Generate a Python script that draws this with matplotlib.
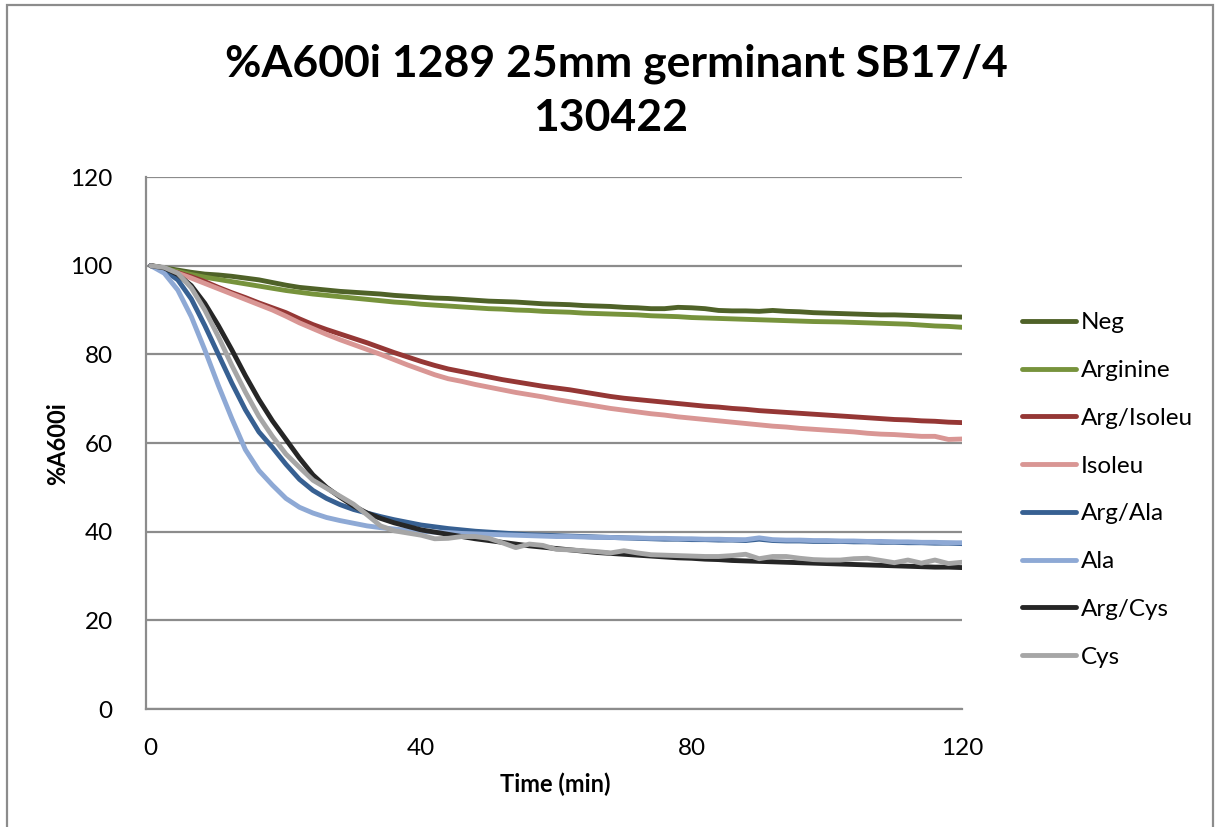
import numpy as np
import matplotlib
matplotlib.use("Agg")
import matplotlib.pyplot as plt
from matplotlib.patches import Rectangle

plt.rcParams['font.family'] = ['Lato', 'DejaVu Sans']

# Sampling times (min)
time_min = list(range(0, 121, 2))

neg = [100, 99.5, 99.0, 98.5, 98.1, 97.9, 97.6, 97.2, 96.8, 96.2, 95.6,
       95.1, 94.8, 94.5, 94.2, 94.0, 93.8, 93.6, 93.3, 93.1, 92.9,
       92.7, 92.6, 92.4, 92.2, 92.0, 91.9, 91.8, 91.6, 91.4, 91.3,
       91.2, 91.0, 90.9, 90.8, 90.6, 90.5, 90.3, 90.3, 90.6, 90.5,
       90.3, 89.9, 89.8, 89.8, 89.7, 89.9, 89.7, 89.6, 89.4, 89.3,
       89.2, 89.1, 89.0, 88.9, 88.9, 88.8, 88.7, 88.6, 88.5, 88.4]

arginine = [100, 99.3, 98.7, 98.0, 97.4, 96.9, 96.4, 95.9, 95.4, 94.9, 94.4,
            94.0, 93.6, 93.3, 93.0, 92.7, 92.4, 92.1, 91.8, 91.6, 91.3,
            91.1, 90.9, 90.7, 90.5, 90.3, 90.2, 90.0, 89.9, 89.7, 89.6,
            89.5, 89.3, 89.2, 89.1, 89.0, 88.9, 88.7, 88.6, 88.5, 88.3,
            88.2, 88.1, 88.0, 87.9, 87.8, 87.7, 87.6, 87.5, 87.4, 87.35,
            87.3, 87.2, 87.1, 87.0, 86.9, 86.8, 86.6, 86.4, 86.3, 86.1]

arg_isoleu = [100, 99.2, 98.4, 97.5, 96.4, 95.1, 93.9, 92.8, 91.6, 90.5, 89.4,
              88.0, 86.7, 85.6, 84.6, 83.6, 82.6, 81.5, 80.4, 79.4, 78.4,
              77.5, 76.7, 76.1, 75.5, 74.9, 74.3, 73.8, 73.3, 72.8, 72.4,
              72.0, 71.5, 71.0, 70.5, 70.1, 69.8, 69.5, 69.2, 68.9, 68.6,
              68.3, 68.1, 67.8, 67.6, 67.3, 67.1, 66.9, 66.7, 66.5, 66.3,
              66.1, 65.9, 65.7, 65.5, 65.3, 65.2, 65.0, 64.9, 64.7, 64.6]

isoleu = [100, 99.2, 98.3, 97.2, 96.0, 94.8, 93.6, 92.4, 91.2, 90.0, 88.6,
          87.1, 85.8, 84.5, 83.3, 82.2, 81.1, 80.0, 78.8, 77.6, 76.5,
          75.4, 74.5, 73.9, 73.2, 72.6, 72.0, 71.4, 70.9, 70.4, 69.8,
          69.3, 68.8, 68.3, 67.8, 67.4, 67.0, 66.6, 66.3, 65.9, 65.6,
          65.3, 65.0, 64.7, 64.4, 64.1, 63.8, 63.6, 63.3, 63.1, 62.9,
          62.7, 62.5, 62.2, 62.0, 61.9, 61.7, 61.5, 61.5, 60.8, 60.9]

arg_ala = [100, 99.0, 96.8, 92.5, 86.5, 80.0, 73.5, 67.5, 62.5, 59.0, 55.2,
           51.8, 49.3, 47.5, 46.1, 45.0, 44.2, 43.4, 42.7, 42.1, 41.5,
           41.1, 40.7, 40.4, 40.1, 39.9, 39.7, 39.5, 39.3, 39.2, 39.1,
           39.0, 38.9, 38.8, 38.7, 38.6, 38.5, 38.4, 38.3, 38.3, 38.2,
           38.2, 38.1, 38.1, 38.0, 38.3, 38.0, 37.9, 37.9, 37.8, 37.8,
           37.8, 37.7, 37.7, 37.6, 37.6, 37.5, 37.5, 37.4, 37.4, 37.3]

ala = [100, 98.3, 94.5, 88.5, 81.0, 73.0, 65.5, 58.5, 53.8, 50.5, 47.5,
       45.5, 44.2, 43.2, 42.5, 41.9, 41.3, 40.9, 40.6, 40.3, 40.1,
       39.9, 39.8, 39.6, 39.5, 39.4, 39.3, 39.2, 39.1, 39.0, 38.9,
       38.9, 38.8, 38.7, 38.7, 38.6, 38.6, 38.5, 38.5, 38.4, 38.4,
       38.3, 38.3, 38.2, 38.2, 38.6, 38.2, 38.1, 38.1, 38.0, 38.0,
       37.9, 37.9, 37.8, 37.8, 37.7, 37.7, 37.6, 37.6, 37.5, 37.5]

arg_cys = [100, 99.5, 98.0, 95.5, 91.5, 86.5, 81.0, 75.2, 69.8, 65.0, 60.8,
           56.6, 52.8, 50.0, 47.8, 45.8, 44.2, 43.0, 42.0, 41.2, 40.4,
           39.9, 39.4, 38.9, 38.4, 38.0, 37.6, 37.2, 36.8, 36.5, 36.2,
           35.9, 35.6, 35.3, 35.1, 34.9, 34.7, 34.5, 34.3, 34.1, 34.0,
           33.8, 33.7, 33.5, 33.4, 33.3, 33.2, 33.1, 33.0, 32.9, 32.8,
           32.7, 32.6, 32.5, 32.4, 32.3, 32.2, 32.1, 32.0, 32.0, 31.9]

cys = [100, 99.6, 98.3, 95.0, 90.0, 84.0, 77.5, 71.5, 66.0, 61.5, 57.5,
       54.5, 51.6, 49.8, 48.0, 46.2, 43.8, 41.3, 40.2, 39.7, 39.2,
       38.4, 38.5, 38.9, 38.9, 38.5, 37.5, 36.4, 37.2, 36.9, 36.0,
       35.9, 35.7, 35.5, 35.2, 35.7, 35.2, 34.8, 34.7, 34.6, 34.5,
       34.4, 34.4, 34.6, 34.9, 33.9, 34.4, 34.4, 34.0, 33.7, 33.6,
       33.6, 33.9, 34.0, 33.5, 33.0, 33.6, 32.9, 33.6, 32.8, 33.1]

series_names = ["Neg", "Arginine", "Arg/Isoleu", "Isoleu",
                "Arg/Ala", "Ala", "Arg/Cys", "Cys"]
series_values = [neg, arginine, arg_isoleu, isoleu, arg_ala, ala, arg_cys, cys]
series_colors = ["#4F6228", "#77933C", "#953735", "#D99694",
                 "#376092", "#8EA9D5", "#262626", "#A6A6A6"]

x_ticks = [0, 40, 80, 120]
y_ticks = [0, 20, 40, 60, 80, 100, 120]

W, H = 1216, 827
fig = plt.figure(figsize=(W / 100, H / 100), dpi=100)

# chart border
fig.patches.append(Rectangle((7 / W, -0.02), (1213 - 7) / W, 1.02 - 5 / H,
                             transform=fig.transFigure, fill=False,
                             edgecolor="#8C8C8C", linewidth=1.6))

ax = fig.add_axes([146 / W, 1 - 709 / H, (962 - 146) / W, (709 - 177) / H])

for name, vals, col in zip(series_names, series_values, series_colors):
    ax.plot(time_min, vals, color=col, lw=3.5, label=name,
            solid_capstyle="round", solid_joinstyle="round")

ax.set_xlim(-0.7, 120)
ax.set_ylim(0, 120)
ax.set_xticks(x_ticks)
ax.set_yticks(y_ticks)
ax.tick_params(length=0, labelsize=17.5, colors="black")
ax.tick_params(axis="y", pad=24)
ax.tick_params(axis="x", pad=21)
ax.yaxis.grid(True, color="#8C8C8C", lw=1.6)
ax.set_axisbelow(True)
for s in ("top", "right"):
    ax.spines[s].set_visible(False)
for s in ("left", "bottom"):
    ax.spines[s].set_color("#8C8C8C")
    ax.spines[s].set_linewidth(1.6)

# axis titles
fig.text(555 / W, 1 - 784 / H, "Time (min)", ha="center", va="center",
         fontsize=17, fontweight="bold")
fig.text(58 / W, 1 - 444 / H, "%A600i", ha="center", va="center",
         rotation=90, fontsize=17, fontweight="bold")

# chart title
fig.text(616 / W, 1 - 64 / H, "%A600i 1289 25mm germinant SB17/4",
         ha="center", va="center", fontsize=32, fontweight="bold")
fig.text(611 / W, 1 - 118 / H, "130422",
         ha="center", va="center", fontsize=32, fontweight="bold")

leg = fig.legend(loc="center left", bbox_to_anchor=(1010 / W, 1 - 490 / H),
                 frameon=False, fontsize=17.5, handlelength=2.2,
                 handletextpad=0.2, labelspacing=1.1, borderpad=0)

fig.savefig("out.png", dpi=100)
